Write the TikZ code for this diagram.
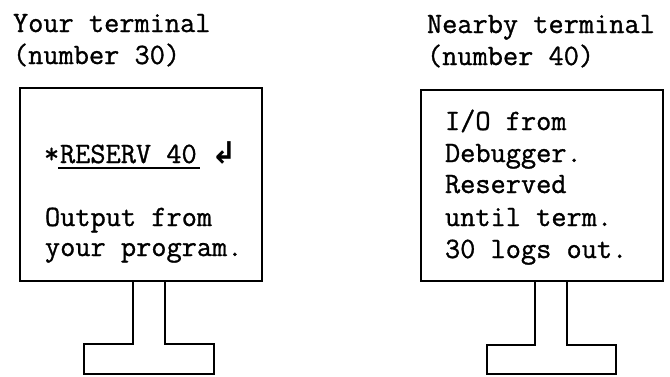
\documentclass[tikz,border=0pt]{standalone}
\usepackage{fontspec}
\setmonofont{Latin Modern Mono}[FakeBold=1]
\newfontfamily\symfont{DejaVu Sans}
\begin{document}
\begin{tikzpicture}[x=1pt,y=-1pt,
  txt/.style={anchor=base west, inner sep=0pt, outer sep=0pt, font=\ttfamily\fontsize{29.5}{32}\selectfont},
  screen/.style={draw, line width=2.2pt, rectangle, inner sep=0pt, outer sep=0pt, anchor=north west},
  stand/.style={draw, line width=2.2pt, line join=miter},
  uline/.style={line width=1.4pt}]
\useasboundingbox (0,0) rectangle (670,376);
% titles
\node[txt] (t1a) at (13,32) {Your terminal};
\node[txt] (t1b) at (13,64) {(number 30)};
\node[txt] (t2a) at (427,33) {Nearby terminal};
\node[txt] (t2b) at (427,65) {(number 40)};
% left terminal
\node[screen, minimum width=242pt, minimum height=193pt] (box1) at (20,88) {};
\draw[stand] ([xshift=113pt]box1.south west) -- ++(0,63) -- ++(-49,0) -- ++(0,30)
  -- ++(130,0) -- ++(0,-30) -- ++(-49,0) -- ++(0,-63);
\node[txt] (star) at (44,163) {*};
\node[txt] (cmd) at (60,163) {RESERV 40};
\draw[uline] ([xshift=-2pt,yshift=-5pt]cmd.base west) -- ([xshift=3pt,yshift=-5pt]cmd.base east);
\node[anchor=base, inner sep=0pt, font=\symfont\bfseries\fontsize{30}{30}\selectfont] (ret) at (224,163) {↲};
\node[txt] (o1) at (45,226) {Output from};
\node[txt] (o2) at (45,256) {your program.};
% right terminal
\node[screen, minimum width=242pt, minimum height=191pt] (box2) at (421,90) {};
\draw[stand] ([xshift=114pt]box2.south west) -- ++(0,64) -- ++(-48,0) -- ++(0,29)
  -- ++(129,0) -- ++(0,-29) -- ++(-49,0) -- ++(0,-64);
\node[txt] (r1) at (445,130) {I/O from};
\node[txt] (r2) at (445,162) {Debugger.};
\node[txt] (r3) at (445,193) {Reserved};
\node[txt] (r4) at (445,226) {until term.};
\node[txt] (r5) at (445,258) {30 logs out.};
\end{tikzpicture}
\end{document}
